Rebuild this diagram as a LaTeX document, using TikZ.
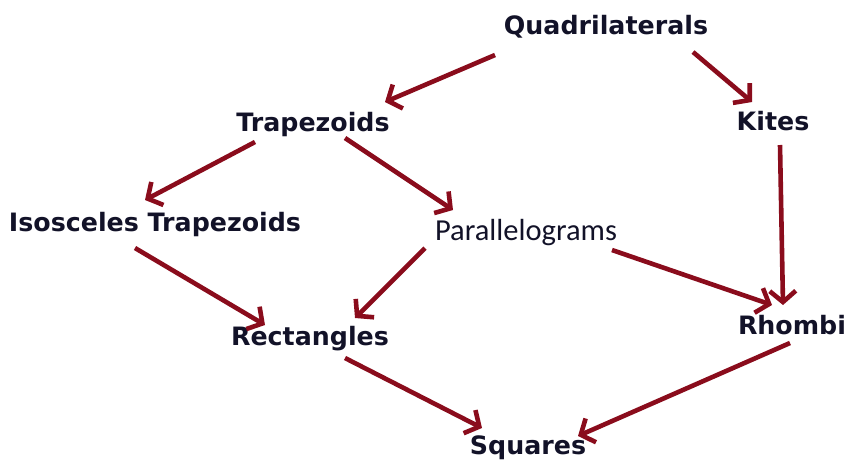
\documentclass[tikz,border=0pt]{standalone}
\usepackage{fontspec}
\setmainfont{DejaVu Sans}
\newfontfamily\calib{Carlito}
\usetikzlibrary{arrows.meta}
\definecolor{arrred}{RGB}{138,12,28}
\definecolor{txt}{RGB}{18,18,40}
\begin{document}
\begin{tikzpicture}[x=1pt,y=-1pt,
  lbl/.style={anchor=base,inner sep=0pt,text=txt,font=\fontsize{25.3}{30}\selectfont\bfseries},
  lblr/.style={anchor=base,inner sep=0pt,text=txt,font=\calib\fontsize{30.5}{36}\selectfont},
  arr/.style={draw=arrred,line width=4.6pt,-{Straight Barb[length=11pt,width=26pt,line width=4.6pt]}}]
\useasboundingbox (0,0) rectangle (850,459);
\node[lbl] (q) at (606,34) {Quadrilaterals};
\node[lbl] (t) at (313,131) {Trapezoids};
\node[lbl] (k) at (773,130) {Kites};
\node[lbl] (i) at (155,231) {Isosceles Trapezoids};
\node[lblr] (p) at (526,240) {Parallelograms};
\node[lbl] (r) at (310,345) {Rectangles};
\node[lbl] (h) at (792,334) {Rhombi};
\node[lbl] (s) at (528,454) {Squares};
% connector end points
\coordinate (q1) at (495,55);  \coordinate (t1) at (385,102);
\coordinate (q2) at (693,52);  \coordinate (k1) at (752,102);
\coordinate (t2) at (255,142); \coordinate (i1) at (145,200);
\coordinate (t3) at (345,138); \coordinate (p1) at (453,210);
\coordinate (k2) at (780,145); \coordinate (h1) at (783,305);
\coordinate (i2) at (135,248); \coordinate (r1) at (265,325);
\coordinate (p2) at (425,248); \coordinate (r2) at (355,318);
\coordinate (p3) at (612,250); \coordinate (h2) at (772,305);
\coordinate (r3) at (345,358); \coordinate (s1) at (482,428);
\coordinate (h3) at (790,343); \coordinate (s2) at (578,436);
\draw[arr] (q1) -- (t1);
\draw[arr] (q2) -- (k1);
\draw[arr] (t2) -- (i1);
\draw[arr] (t3) -- (p1);
\draw[arr] (k2) -- (h1);
\draw[arr] (i2) -- (r1);
\draw[arr] (p2) -- (r2);
\draw[arr] (p3) -- (h2);
\draw[arr] (r3) -- (s1);
\draw[arr] (h3) -- (s2);
\end{tikzpicture}
\end{document}
